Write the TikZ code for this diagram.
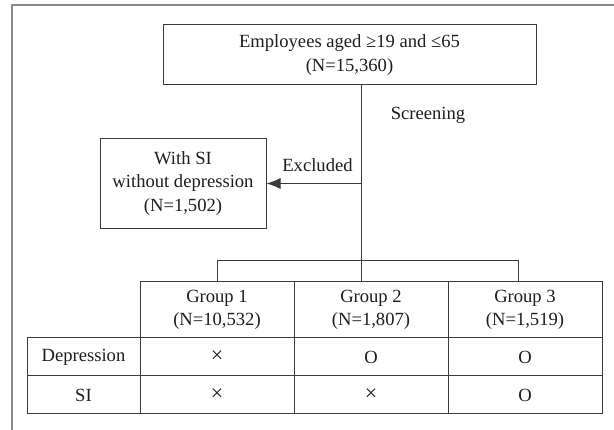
\documentclass[tikz,border=0pt]{standalone}
\usepackage{fontspec}
\setmainfont{Liberation Serif}
\usetikzlibrary{arrows.meta}
\definecolor{ln}{HTML}{3A3A3A}
\definecolor{framec}{HTML}{8A8A8A}
\definecolor{txt}{HTML}{1E1E1E}
\begin{document}
\begin{tikzpicture}[x=1pt,y=-1pt,
  box/.style={draw=ln, line width=1pt, rectangle, inner sep=0pt, align=center, text=txt,
    font=\fontsize{18.6}{23.5}\selectfont},
  cell/.style={box, minimum width=154pt, minimum height=38pt},
  headcell/.style={box, minimum width=154pt, minimum height=56pt},
  labcell/.style={box, minimum width=113pt, minimum height=38pt},
  lbl/.style={inner sep=0pt, text=txt, font=\fontsize{18.6}{23.5}\selectfont},
  conn/.style={draw=ln, line width=1pt}]
\useasboundingbox (0,0) rectangle (614,430);
\fill[white] (0,0) rectangle (614,430);
% outer frame
\draw[framec, line width=2pt] (12,430) -- (12,5) -- (614,5);

% nodes
\node[box, minimum width=373pt, minimum height=60pt] (top) at (349.5,55)
  {Employees aged ≥19 and ≤65\\(N=15,360)};
\node[box, minimum width=166pt, minimum height=90pt] (excl) at (183,183.5)
  {With SI\\without depression\\(N=1,502)};

\node[headcell] (h1) at (217,310) {Group 1\\(N=10,532)};
\node[headcell] (h2) at (371,310) {Group 2\\(N=1,807)};
\node[headcell] (h3) at (525,310) {Group 3\\(N=1,519)};

\node[labcell] (d0) at (83.5,357) {Depression};
\node[cell] (d1) at (217,357) {\fontsize{22}{24}\selectfont ×};
\node[cell] (d2) at (371,357) {O};
\node[cell] (d3) at (525,357) {O};

\node[labcell] (s0) at (83.5,395) {SI};
\node[cell] (s1) at (217,395) {\fontsize{22}{24}\selectfont ×};
\node[cell] (s2) at (371,395) {\fontsize{22}{24}\selectfont ×};
\node[cell] (s3) at (525,395) {O};

% connectors
\coordinate (trunk) at (361,183.5);
\coordinate (barl) at (217,261);
\coordinate (barr) at (518,261);
\draw[conn] (top.south -| trunk) -- (h2.north -| trunk);
\draw[conn, -{Latex[length=14pt,width=11pt]}] (trunk) -- (excl.east);
\draw[conn] (h1.north -| barl) -- (barl) -- (barr) -- (h3.north -| barr);

\node[lbl] (scr) at (428,115) {Screening};
\node[lbl] (exlab) at (317.5,165) {Excluded};
\end{tikzpicture}
\end{document}
